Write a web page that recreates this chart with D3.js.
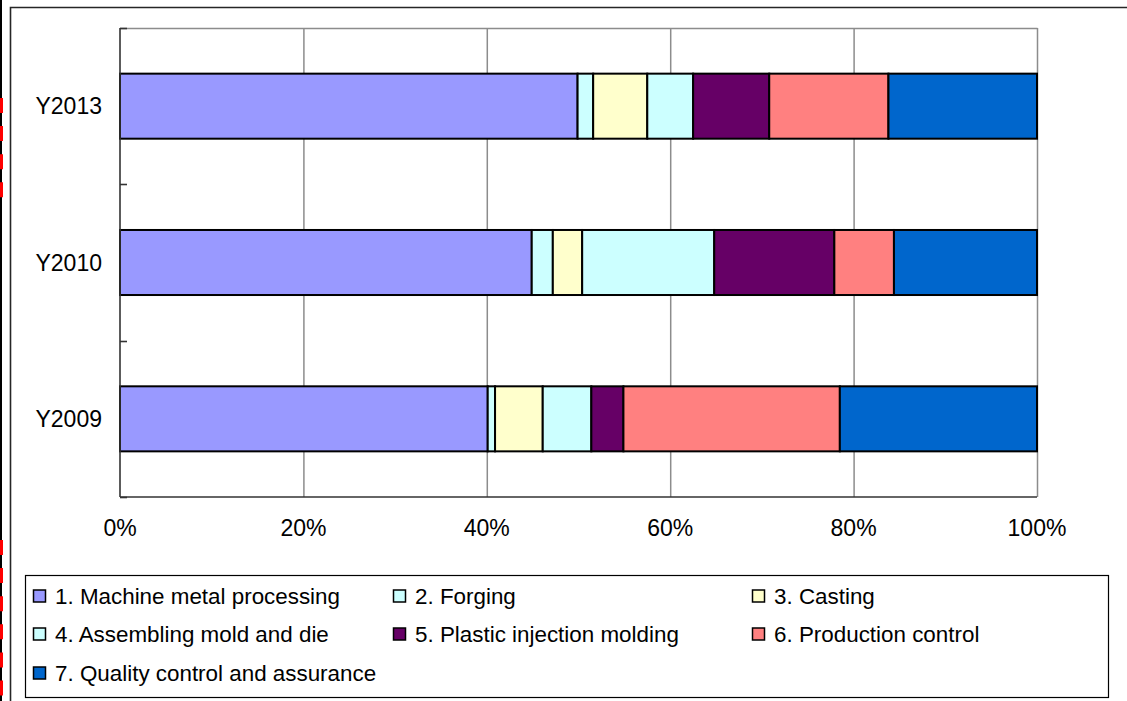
<!DOCTYPE html>
<html>
<head>
<meta charset="utf-8">
<script src="https://cdn.jsdelivr.net/npm/d3@7"></script>
<style>
  html, body { margin: 0; padding: 0; background: #fff; }
  svg { display: block; font-family: "Liberation Sans", Arial, sans-serif; }
</style>
</head>
<body>
<svg id="chart" width="1127" height="701"></svg>
<script>
// Share of training by field, per survey year (percent of total)
const years = ["Y2013", "Y2010", "Y2009"];
const seriesNames = [
  "1. Machine metal processing",
  "2. Forging",
  "3. Casting",
  "4. Assembling mold and die",
  "5. Plastic injection molding",
  "6. Production control",
  "7. Quality control and assurance"
];
const machineMetal = [49.9, 44.9, 40.1];
const forging      = [1.7, 2.3, 0.8];
const casting      = [5.9, 3.2, 5.2];
const assembling   = [5.0, 14.4, 5.3];
const plastic      = [8.3, 13.1, 3.5];
const production   = [13.0, 6.5, 23.6];
const quality      = [16.2, 15.6, 21.5];
const seriesColors = ["#9999FF", "#CCFFFF", "#FFFFCC", "#CCFFFF", "#660066", "#FF8080", "#0066CC"];
const xTickValues = [0, 0.2, 0.4, 0.6, 0.8, 1];

const seriesValues = [machineMetal, forging, casting, assembling, plastic, production, quality];
const rows = years.map((y, i) => {
  const r = { year: y };
  seriesNames.forEach((s, k) => { r[s] = seriesValues[k][i]; });
  return r;
});

const svg = d3.select("#chart");
const fontSize = 23;
const legendFontSize = 22.4;

// page frame
svg.append("line").attr("x1", 1).attr("x2", 1).attr("y1", 0).attr("y2", 701)
  .attr("stroke", "#000").attr("stroke-width", 2);
[[98, 200], [540, 701]].forEach(([a, b]) => {
  svg.append("line").attr("x1", 1.5).attr("x2", 1.5).attr("y1", a).attr("y2", b)
    .attr("stroke", "#ff0000").attr("stroke-width", 3)
    .attr("stroke-dasharray", "15,13.1");
});
svg.append("path").attr("d", "M10.5,701V7.5H1127")
  .attr("fill", "none").attr("stroke", "#262626").attr("stroke-width", 1.6);

// plot area
const plot = { left: 120, right: 1037, top: 28, bottom: 497 };

const x = d3.scaleLinear().domain([0, 1]).range([plot.left, plot.right]);
const y = d3.scaleBand().domain(years).range([plot.top, plot.bottom])
  .paddingInner(0.584).paddingOuter(0.292);

const stacked = d3.stack().keys(seriesNames).offset(d3.stackOffsetExpand)(rows);

// gridlines
svg.append("g").selectAll("line").data(xTickValues.slice(1)).join("line")
  .attr("x1", d => x(d) + 0.5).attr("x2", d => x(d) + 0.5)
  .attr("y1", plot.top).attr("y2", plot.bottom)
  .attr("stroke", "#8c8c8c").attr("stroke-width", 1.5);
svg.append("line").attr("x1", plot.left).attr("x2", plot.right + 0.5)
  .attr("y1", plot.top + 0.5).attr("y2", plot.top + 0.5)
  .attr("stroke", "#8c8c8c").attr("stroke-width", 1.5);

// bars
svg.append("g").selectAll("g").data(stacked).join("g")
  .attr("fill", (d, i) => seriesColors[i])
  .selectAll("rect").data(d => d).join("rect")
  .attr("x", d => x(d[0]))
  .attr("y", d => y(d.data.year))
  .attr("width", d => x(d[1]) - x(d[0]))
  .attr("height", y.bandwidth())
  .attr("stroke", "#000").attr("stroke-width", 2);

// y axis
const yAxis = svg.append("g").attr("transform", `translate(${plot.left},0)`);
yAxis.append("line").attr("x1", 0).attr("x2", 0).attr("y1", plot.top).attr("y2", plot.bottom)
  .attr("stroke", "#333").attr("stroke-width", 1.6);
const bandEdges = [plot.top].concat(years.map(d => y(d) + y.bandwidth() + y.step() * y.paddingInner() / 2));
yAxis.selectAll(".tk").data(bandEdges).join("line").attr("class", "tk")
  .attr("x1", 0).attr("x2", 7).attr("y1", d => Math.round(d) + 0.5).attr("y2", d => Math.round(d) + 0.5)
  .attr("stroke", "#333").attr("stroke-width", 1.6);
yAxis.selectAll("text").data(years).join("text")
  .attr("x", -18).attr("y", d => y(d) + y.bandwidth() / 2)
  .attr("dy", "0.35em").attr("text-anchor", "end")
  .attr("font-size", fontSize).attr("fill", "#000").text(d => d);

// x axis
const xAxis = svg.append("g");
xAxis.append("line").attr("x1", plot.left).attr("x2", plot.right)
  .attr("y1", plot.bottom).attr("y2", plot.bottom)
  .attr("stroke", "#333").attr("stroke-width", 1.6);
xAxis.selectAll("text").data(xTickValues).join("text")
  .attr("x", d => x(d)).attr("y", 528).attr("dy", "0.35em")
  .attr("text-anchor", "middle").attr("font-size", fontSize).attr("fill", "#000")
  .text(d3.format(".0%"));

// legend
const legend = svg.append("g");
legend.append("rect").attr("x", 25.5).attr("y", 575.5).attr("width", 1083).attr("height", 122)
  .attr("fill", "#fff").attr("stroke", "#000").attr("stroke-width", 1.2);
const colX = [33, 393, 752];
const rowY = [596, 634, 673];
const items = legend.selectAll("g").data(seriesNames).join("g")
  .attr("transform", (d, i) => `translate(${colX[i % 3]},${rowY[Math.floor(i / 3)]})`);
items.append("rect").attr("x", 0.5).attr("y", -6).attr("width", 12).attr("height", 12)
  .attr("fill", (d, i) => seriesColors[i]).attr("stroke", "#000").attr("stroke-width", 1.5);
items.append("text").attr("x", 22).attr("y", 0).attr("dy", "0.35em")
  .attr("font-size", legendFontSize).attr("fill", "#000").text(d => d);
</script>
</body>
</html>
